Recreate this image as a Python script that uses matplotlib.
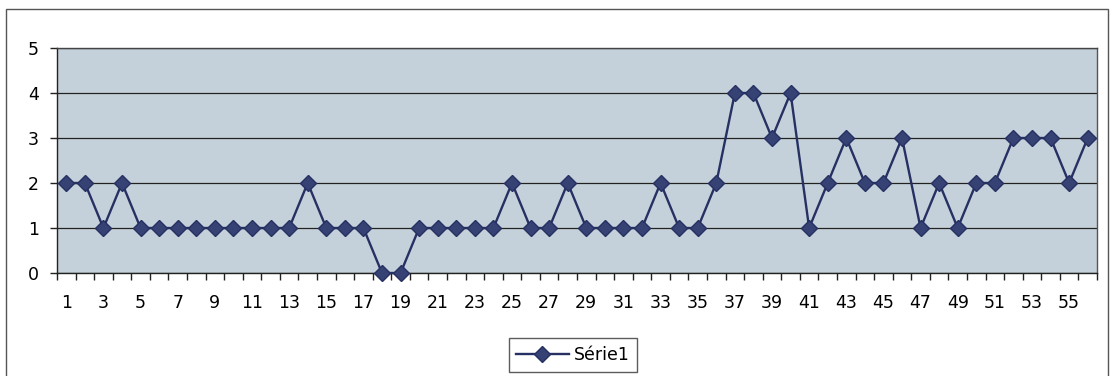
import matplotlib
matplotlib.use("Agg")
import matplotlib.pyplot as plt
from matplotlib.patches import Rectangle
from matplotlib.lines import Line2D

# Series data
categories = list(range(1, 57))
serie1 = [2, 2, 1, 2, 1, 1, 1, 1, 1, 1, 1, 1, 1, 2, 1, 1, 1, 0, 0, 1,
          1, 1, 1, 1, 2, 1, 1, 2, 1, 1, 1, 1, 2, 1, 1, 2, 4, 4, 3, 4,
          1, 2, 3, 2, 2, 3, 1, 2, 1, 2, 2, 3, 3, 3, 2, 3]
series_name = "Série1"
y_ticks = [0, 1, 2, 3, 4, 5]

W, H = 1113, 376
fig = plt.figure(figsize=(W / 100, H / 100), dpi=100)
fig.patch.set_facecolor("white")

# Chart area frame
frame = Rectangle((6 / W, -0.05), (1108 - 6) / W, (H - 9) / H + 0.05,
                  transform=fig.transFigure, fill=False,
                  edgecolor="#555555", linewidth=1.0)
fig.add_artist(frame)

left, right, top, bottom = 57, 1097, 48, 273
ax = fig.add_axes([left / W, (H - bottom) / H, (right - left) / W, (bottom - top) / H])
ax.set_facecolor("#c5d1da")

line_color = "#263063"
ax.plot(categories, serie1, color=line_color, linewidth=1.7,
        marker="D", markersize=8.5, markerfacecolor="#364274",
        markeredgecolor=line_color, zorder=3, clip_on=False)

ax.set_xlim(0.5, len(categories) + 0.5)
ax.set_ylim(0, 5)
ax.set_yticks(y_ticks)
ax.yaxis.grid(True, color="#222222", linewidth=0.9)
ax.set_axisbelow(True)

label_font = dict(fontsize=12.5, fontweight="medium")

# Category ticks sit between categories, labels on every other category
ax.set_xticks([c - 0.5 for c in categories] + [len(categories) + 0.5], minor=False)
ax.set_xticklabels([])
ax.set_xticks(categories[::2], minor=True)
ax.set_xticklabels([str(c) for c in categories[::2]], minor=True, **label_font)
ax.set_yticklabels([str(v) for v in y_ticks], **label_font)
ax.tick_params(axis="x", which="major", direction="out", length=5, width=1, color="#222222")
ax.tick_params(axis="x", which="minor", length=0, pad=15)
ax.tick_params(axis="y", direction="out", length=5, width=1, color="#222222", pad=8)

for side in ("left", "bottom"):
    ax.spines[side].set_color("#222222")
    ax.spines[side].set_linewidth(1.0)
ax.spines["top"].set_color("#444444")
ax.spines["top"].set_linewidth(1.0)
ax.spines["right"].set_color("#555555")
ax.spines["right"].set_linewidth(1.0)

handle = Line2D([], [], color=line_color, linewidth=1.7, marker="D", markersize=8.5,
                markerfacecolor="#364274", markeredgecolor=line_color)
leg = fig.legend([handle], [series_name], loc="center",
                 bbox_to_anchor=(573 / W, (H - 355) / H), fontsize=12.5,
                 frameon=True, fancybox=False, handlelength=3.0,
                 borderpad=0.45, handletextpad=0.3)
leg.get_frame().set_edgecolor("#333333")
leg.get_frame().set_linewidth(1.0)

fig.savefig("out.png", dpi=100)
